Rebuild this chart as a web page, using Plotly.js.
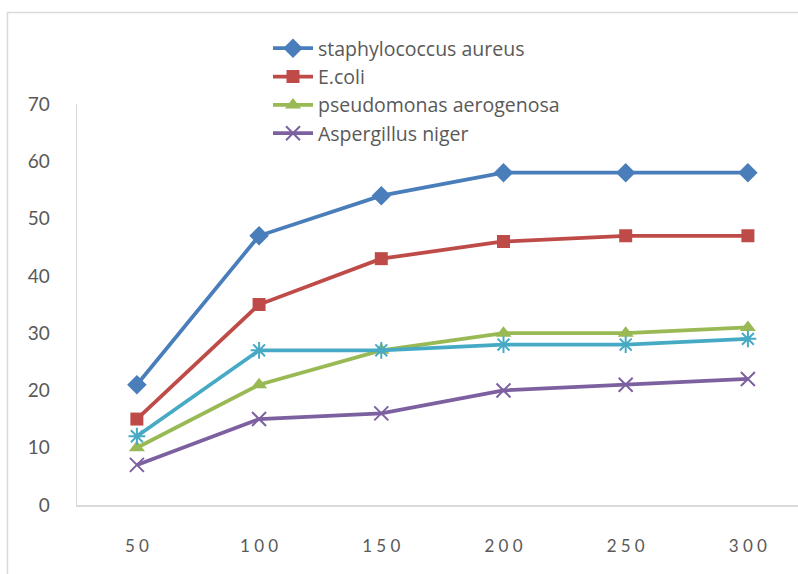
<!DOCTYPE html>
<html>
<head>
<meta charset="utf-8">
<script src="https://cdn.plot.ly/plotly-3.0.1.min.js"></script>
<style>html,body{margin:0;padding:0;background:#fff;}#chart{width:798px;height:574px;}</style>
</head>
<body>
<div id="chart"></div>
<script>
var categories = ["50", "100", "150", "200", "250", "300"];
var tickLabels = ["5\u20050", "1\u20050\u20050", "1\u20055\u20050", "2\u20050\u20050", "2\u20055\u20050", "3\u20050\u20050"];
var staphylococcus = [21, 47, 54, 58, 58, 58];
var ecoli = [15, 35, 43, 46, 47, 47];
var pseudomonas = [10, 21, 27, 30, 30, 31];
var aspergillus = [7, 15, 16, 20, 21, 22];
var unnamedSeries = [12, 27, 27, 28, 28, 29];

var lw = 3.75;
var traces = [
  {name: "staphylococcus aureus", y: staphylococcus, color: "#4a7ebb", symbol: "diamond", size: 15, lineMarker: false},
  {name: "E.coli", y: ecoli, color: "#be4b48", symbol: "square", size: 13, lineMarker: false},
  {name: "pseudomonas aerogenosa", y: pseudomonas, color: "#98b954", symbol: "triangle-up", size: 14, lineMarker: false},
  {name: "Aspergillus niger", y: aspergillus, color: "#7d60a0", symbol: "x-thin-open", size: 14, lineMarker: true},
  {name: "", y: unnamedSeries, color: "#46aac5", symbol: "asterisk-open", size: 14, lineMarker: true, hide: true}
].map(function (s) {
  return {
    type: "scatter",
    mode: "lines+markers",
    x: categories,
    y: s.y,
    name: s.name,
    showlegend: !s.hide,
    line: {color: s.color, width: lw},
    marker: s.lineMarker
      ? {symbol: s.symbol, size: s.size, color: s.color, line: {color: s.color, width: 2}}
      : {symbol: s.symbol, size: s.size, color: s.color, line: {width: 0}}
  };
});

var L = 77, T = 104, B = 69, W = 798, H = 574;
var pw = W - L, ph = H - T - B;
function px(x) { return (x - L) / pw; }
function py(y) { return (H - B - y) / ph; }

var layout = {
  width: W, height: H,
  margin: {l: L, r: 0, t: T, b: B, pad: 0},
  paper_bgcolor: "#ffffff",
  plot_bgcolor: "#ffffff",
  font: {family: "Lato, 'Open Sans', sans-serif", color: "#595959"},
  showlegend: true,
  legend: {
    x: px(268), y: py(29), xanchor: "left", yanchor: "top",
    font: {size: 19.5, color: "#595959", family: "'Open Sans', Lato, sans-serif"},
    bgcolor: "rgba(0,0,0,0)", borderwidth: 0,
    tracegroupgap: 0, itemwidth: 40
  },
  xaxis: {
    type: "category",
    range: [-0.49, 5.41],
    tickvals: categories,
    ticktext: tickLabels,
    showline: true, linecolor: "#d9d9d9", linewidth: 1.5,
    showgrid: false, zeroline: false,
    ticks: "", ticklabelstandoff: 25,
    tickfont: {size: 17, color: "#595959", family: "Lato, 'Open Sans', sans-serif"},
    fixedrange: true
  },
  yaxis: {
    range: [0, 70],
    tickvals: [0, 10, 20, 30, 40, 50, 60, 70],
    showline: true, linecolor: "#d9d9d9", linewidth: 1.5,
    showgrid: false, zeroline: false,
    ticks: "", ticklabelstandoff: 22,
    tickfont: {size: 19, color: "#595959", family: "Lato, 'Open Sans', sans-serif"},
    fixedrange: true
  },
  shapes: [{
    type: "path", xref: "paper", yref: "paper", layer: "below",
    path: "M " + px(7.5) + "," + py(600) + " L " + px(7.5) + "," + py(12.5) + " L " + px(820) + "," + py(12.5),
    line: {color: "#d9d9d9", width: 1.5}
  }]
};

Plotly.newPlot("chart", traces, layout, {displayModeBar: false, staticPlot: true});
</script>
</body>
</html>
